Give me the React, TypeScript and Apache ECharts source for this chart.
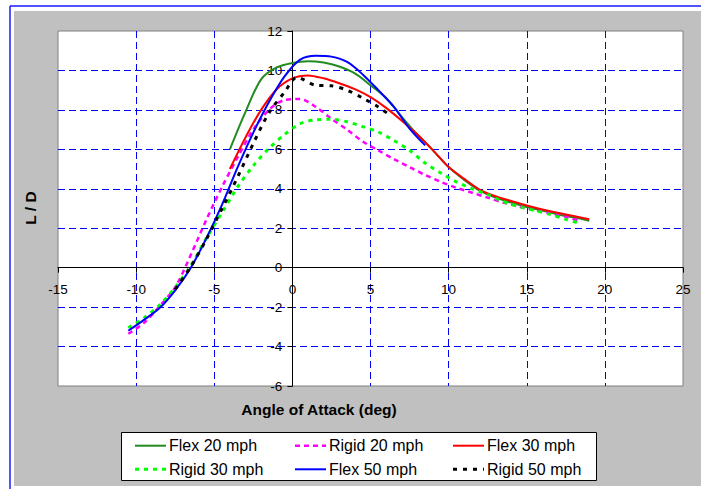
import React, { useEffect, useRef } from "react";
import * as echarts from "echarts";

// Angle of attack (deg) and L/D values
const flex20Angle = [-4, -3, -2, -1, 0, 1, 2, 3, 4, 5, 6, 7, 8, 9, 10, 11, 12, 13, 14, 15, 16, 17, 18, 19];
const flex20LD = [6.0, 7.9, 9.55, 10.15, 10.38, 10.47, 10.4, 10.2, 9.85, 9.25, 8.6, 7.65, 6.75, 5.95, 5.1, 4.45, 3.9, 3.55, 3.3, 3.08, 2.9, 2.7, 2.55, 2.38];

const flex30Angle = [-4, -3, -2, -1, 0, 1, 2, 3, 4, 5, 6, 7, 8, 9, 10, 11, 12, 13, 14, 15, 16, 17, 18, 19];
const flex30LD = [5.0, 6.6, 8.0, 9.05, 9.6, 9.75, 9.6, 9.35, 9.05, 8.65, 8.1, 7.45, 6.75, 5.95, 5.1, 4.5, 3.95, 3.62, 3.38, 3.15, 2.95, 2.78, 2.62, 2.45];

const flex50Angle = [-10.5, -9.5, -8.5, -7.5, -6.5, -5.5, -4.5, -3.5, -2.5, -1.5, -0.5, 0.5, 1.5, 2.5, 3.5, 4.5, 5.5, 6.5, 7.5, 8.5];
const flex50LD = [-3.2, -2.65, -2.05, -1.15, 0.0, 1.5, 3.2, 5.1, 6.85, 8.4, 9.7, 10.55, 10.75, 10.7, 10.43, 9.8, 9.0, 8.15, 7.05, 6.2];

const rigidAngle = [-10.5, -9.5, -8.5, -7.5, -6.5, -5.5, -4.5, -3.5, -2.5, -1.5, -0.5, 0.5, 1.5, 2.5, 3.5, 4.5, 5.5, 6.5, 7.5, 8.5, 9.5, 10.5, 11.5, 12.5, 13.5, 14.5, 15.5, 16.5, 17.5, 18.5];
const rigid20LD = [-3.35, -2.8, -1.95, -1.0, 0.65, 2.44, 4.1, 5.6, 7.0, 8.0, 8.5, 8.55, 8.15, 7.55, 7.0, 6.4, 5.95, 5.5, 5.1, 4.7, 4.35, 4.05, 3.8, 3.55, 3.3, 3.1, 2.92, 2.75, 2.58, 2.35];
const rigid30LD = [-3.05, -2.55, -1.9, -1.0, 0.1, 1.5, 2.8, 4.1, 5.17, 6.05, 6.75, 7.3, 7.5, 7.52, 7.4, 7.15, 6.88, 6.45, 5.95, 5.3, 4.8, 4.35, 4.0, 3.7, 3.35, 3.1, 2.9, 2.7, 2.45, 2.22];

const rigid50Angle = [-7.5, -6.5, -5.5, -4.5, -3.5, -2.5, -1.5, -0.5, 0.3, 1.5, 2.5, 3.5, 4.5, 5.5, 6.3];
const rigid50LD = [-1.1, 0.05, 1.45, 3.0, 4.6, 6.3, 7.85, 8.9, 9.65, 9.25, 9.22, 9.0, 8.6, 8.15, 7.7];

const seriesNames = ["Flex 20 mph", "Rigid 20 mph", "Flex 30 mph", "Rigid 30 mph", "Flex 50 mph", "Rigid 50 mph"];

const xTicks = { min: -15, max: 25, interval: 5 };
const yTicks = { min: -6, max: 12, interval: 2 };

const FONT = "'Liberation Sans', Arial, sans-serif";

function pairs(xs: number[], ys: number[]) {
  return xs.map((x, i) => [x, ys[i]]);
}

export default function App() {
  const ref = useRef<HTMLDivElement>(null);
  useEffect(() => {
    if (!ref.current) return;
    const chart = echarts.init(ref.current, null, { renderer: "svg" });

    const gridLeft = 58, gridTop = 31, gridRight = 18, gridBottom = 103;
    const W = 701, H = 489;
    const plotW = W - gridLeft - gridRight;
    const plotH = H - gridTop - gridBottom;
    const zeroY = gridTop + plotH * (yTicks.max / (yTicks.max - yTicks.min));
    const zeroX = gridLeft + plotW * ((0 - xTicks.min) / (xTicks.max - xTicks.min));
    const xOffset = -(gridTop + plotH - zeroY);
    const yOffset = -(zeroX - gridLeft);

    const styles = [
      { color: "#228b22", width: 2, type: "solid" as any },
      { color: "#ff00ff", width: 2.5, type: [5, 4] as any },
      { color: "#ff0000", width: 2, type: "solid" as any },
      { color: "#00ff00", width: 3, type: [4, 5] as any },
      { color: "#0000ff", width: 2, type: "solid" as any },
      { color: "#000000", width: 3, type: [4, 6] as any },
    ];
    const datas = [
      pairs(flex20Angle, flex20LD),
      pairs(rigidAngle, rigid20LD),
      pairs(flex30Angle, flex30LD),
      pairs(rigidAngle, rigid30LD),
      pairs(flex50Angle, flex50LD),
      pairs(rigid50Angle, rigid50LD),
    ];

    const series = seriesNames.map((name, i) => ({
      name,
      type: "line",
      data: datas[i],
      symbol: "none",
      smooth: 0.3,
      lineStyle: { color: styles[i].color, width: styles[i].width, type: styles[i].type, cap: "butt" },
      itemStyle: { color: styles[i].color },
    }));

    // legend drawn as graphics (3 columns x 2 rows)
    const colX = [135, 295, 453];
    const rowY = [445.7, 469.3];
    const legendGraphics: any[] = [
      { type: "rect", z: 3, silent: true, shape: { x: 121.5, y: 432.5, width: 475, height: 48 }, style: { fill: "#ffffff", stroke: "#000", lineWidth: 1 } },
    ];
    seriesNames.forEach((name, i) => {
      const col = i % 3;
      const row = Math.floor(i / 3);
      const x = colX[col];
      const y = rowY[row];
      const st = styles[i];
      legendGraphics.push({
        type: "line", z: 4, silent: true,
        shape: { x1: x, y1: y, x2: x + 31, y2: y },
        style: { stroke: st.color, lineWidth: st.width, lineDash: st.type === "solid" ? null : st.type, lineCap: "butt" },
      });
      legendGraphics.push({
        type: "text", z: 4, silent: true, x: x + 34, y,
        style: { text: name, font: `16px ${FONT}`, fill: "#000", textAlign: "left", textVerticalAlign: "middle" },
      });
    });

    chart.setOption({
      animation: false,
      backgroundColor: "#ffffff",
      grid: {
        left: gridLeft,
        top: gridTop,
        right: gridRight,
        bottom: gridBottom,
        show: true,
        backgroundColor: "#ffffff",
        borderColor: "#808080",
        borderWidth: 1,
      },
      xAxis: {
        type: "value",
        ...xTicks,
        position: "bottom",
        offset: xOffset,
        axisLine: { onZero: false, lineStyle: { color: "#000", width: 1 } },
        axisTick: { show: true, length: 5, lineStyle: { color: "#000" } },
        axisLabel: { fontFamily: FONT, fontSize: 13.5, color: "#000", margin: 15 },
        splitLine: { show: true, showMinLine: false, showMaxLine: false, lineStyle: { color: "#0000ff", type: [7, 4], width: 1 } },
      },
      yAxis: {
        type: "value",
        ...yTicks,
        position: "left",
        offset: yOffset,
        axisLine: { onZero: false, lineStyle: { color: "#000", width: 1 } },
        axisTick: { show: true, length: 5, lineStyle: { color: "#000" } },
        axisLabel: { fontFamily: FONT, fontSize: 13.5, color: "#000", margin: 10 },
        splitLine: { show: true, showMinLine: false, showMaxLine: false, lineStyle: { color: "#0000ff", type: [7, 4], width: 1 } },
      },
      graphic: [
        { type: "rect", z: -100, silent: true, shape: { x: 14, y: 11, width: 687, height: 475 }, style: { fill: "#c0c0c0" } },
        { type: "line", z: -90, silent: true, shape: { x1: 10, y1: 6, x2: 701, y2: 6 }, style: { stroke: "#1a1aff", lineWidth: 1.5 } },
        { type: "line", z: -90, silent: true, shape: { x1: 10, y1: 6, x2: 10, y2: 489 }, style: { stroke: "#1a1aff", lineWidth: 1.5 } },
        ...legendGraphics,
        {
          type: "text", silent: true, x: 30, y: 208, rotation: Math.PI / 2,
          style: { text: "L / D", font: `bold 15.5px ${FONT}`, fill: "#000", textAlign: "center", textVerticalAlign: "middle" },
        },
        {
          type: "text", silent: true, x: 319, y: 409,
          style: { text: "Angle of Attack (deg)", font: `bold 15.5px ${FONT}`, fill: "#000", textAlign: "center", textVerticalAlign: "middle" },
        },
      ],
      series,
    });
    return () => chart.dispose();
  }, []);
  return <div ref={ref} style={{ position: "fixed", left: 0, top: 0, width: 701, height: 489 }} />;
}
